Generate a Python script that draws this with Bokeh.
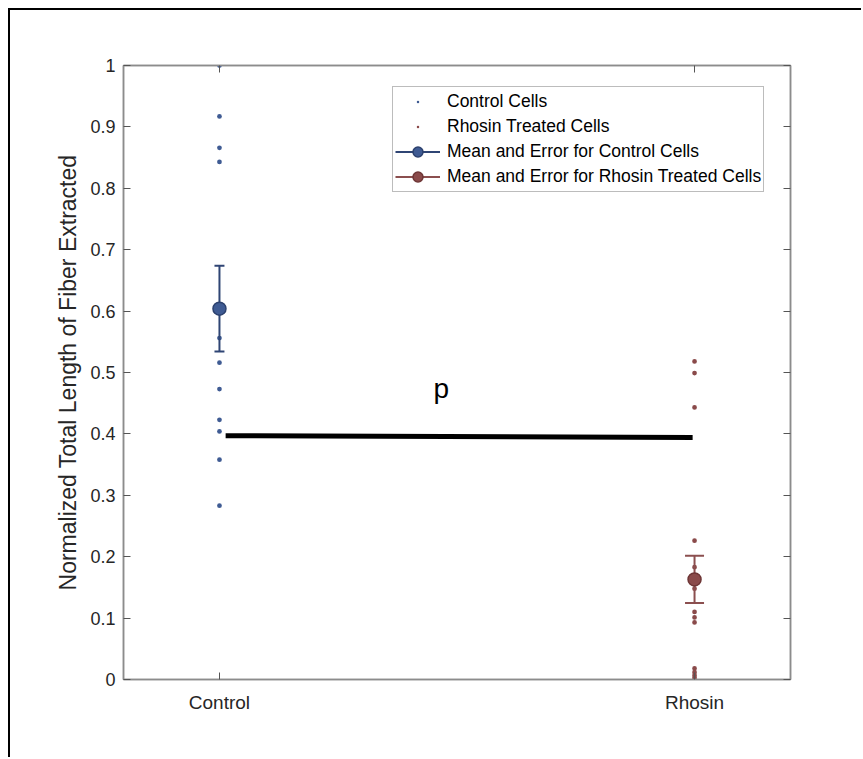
from bokeh.plotting import figure
from bokeh.models import (Range1d, FixedTicker, LinearAxis, Legend, LegendItem,
                          CustomJSTickFormatter)
from bokeh.core.properties import value
from bokeh.embed import file_html
from bokeh.resources import INLINE

# ---- data ----
groups = ["Control", "Rhosin"]
group_x = [1, 2]
control_vals = [1.0, 0.917, 0.866, 0.843, 0.556, 0.516, 0.473, 0.423, 0.404, 0.358, 0.283]
rhosin_vals = [0.518, 0.499, 0.443, 0.226, 0.183, 0.148, 0.110, 0.101, 0.093,
               0.018, 0.012, 0.007, 0.003]
means = [0.604, 0.163]
errs = [0.070, 0.0385]
sig_x = [1.013, 1.996]
sig_y = [0.397, 0.394]
p_label_x = 1.467
p_label_y = 0.474
y_ticks = [0, 0.1, 0.2, 0.3, 0.4, 0.5, 0.6, 0.7, 0.8, 0.9, 1.0]

FONT = "Liberation Sans"
AX = "#8c8c8c"
TXT = "#262626"
C_BLUE = "#3f5b93"
C_BLUE_EDGE = "#2c416e"
C_RED = "#8a4a4a"
C_RED_EDGE = "#6e3636"

p = figure(width=853, height=749, output_backend="svg", toolbar_location=None,
           x_range=Range1d(0.798, 2.202), y_range=Range1d(0, 1),
           min_border_left=113, min_border_right=73, min_border_top=55,
           min_border_bottom=80)
p.margin = (8, 0, 0, 8)
p.styles = {"border-left": "2px solid black", "border-top": "2px solid black"}
p.xgrid.visible = False
p.ygrid.visible = False
p.outline_line_color = AX
p.outline_line_width = 1.5
p.background_fill_color = "white"
p.border_fill_color = "white"

# axes
p.xaxis.ticker = FixedTicker(ticks=group_x)
p.xaxis.major_label_overrides = {gx: g for gx, g in zip(group_x, groups)}
p.yaxis.ticker = FixedTicker(ticks=y_ticks)
p.yaxis.formatter = CustomJSTickFormatter(code="return Number(tick.toFixed(1)).toString();")
p.yaxis.axis_label = "Normalized Total Length of Fiber Extracted"
p.yaxis.axis_label_text_font = FONT
p.yaxis.axis_label_text_font_size = "23px"
p.yaxis.axis_label_text_font_style = "normal"
p.yaxis.axis_label_text_color = TXT
p.yaxis.axis_label_standoff = 6

for ax in [p.xaxis[0], p.yaxis[0]]:
    ax.axis_line_color = AX
    ax.axis_line_width = 1.5
    ax.major_tick_line_color = "#555555"
    ax.major_tick_in = 7
    ax.major_tick_out = 0
    ax.minor_tick_line_color = None
    ax.major_label_text_font = FONT
    ax.major_label_text_color = TXT
p.xaxis.major_label_text_font_size = "19px"
p.yaxis.major_label_text_font_size = "18px"
p.xaxis.major_label_standoff = 12
p.yaxis.major_label_standoff = 8

top_ax = LinearAxis(ticker=FixedTicker(ticks=group_x), major_label_text_color=None,
                    axis_line_color=AX, axis_line_width=1.5, major_tick_line_color="#555555",
                    major_tick_in=7, major_tick_out=0, minor_tick_line_color=None)
right_ax = LinearAxis(ticker=FixedTicker(ticks=y_ticks), major_label_text_color=None,
                      axis_line_color=AX, axis_line_width=1.5, major_tick_line_color="#555555",
                      major_tick_in=7, major_tick_out=0, minor_tick_line_color=None)
p.add_layout(top_ax, "above")
p.add_layout(right_ax, "right")

# individual points (dot markers keep the legend glyph tiny)
r_c_pts = p.scatter(x=[group_x[0]] * len(control_vals), y=control_vals, marker="dot",
                    size=19, fill_color=C_BLUE, line_color=C_BLUE, line_width=1)
r_r_pts = p.scatter(x=[group_x[1]] * len(rhosin_vals), y=rhosin_vals, marker="dot",
                    size=19, fill_color=C_RED, line_color=C_RED, line_width=1)

# significance bar
p.line(x=sig_x, y=sig_y, line_color="black", line_width=5)
p.text(x=[p_label_x], y=[p_label_y], text=["p"], text_font=value(FONT),
       text_font_size="28px", text_align="center", text_baseline="alphabetic",
       text_color="black")

# error bars and means
cap_half = [0.0105, 0.02]
colors = [C_BLUE, C_RED]
edges = [C_BLUE_EDGE, C_RED_EDGE]
line_cols = ["#2f4574", "#8b4f4f"]
mean_items = []
for gx, m, e, ch, fc, ec, lc in zip(group_x, means, errs, cap_half, colors, edges, line_cols):
    rl = p.line(x=[gx, gx], y=[m - e, m + e], line_color=lc, line_width=2)
    p.segment(x0=[gx - ch, gx - ch], x1=[gx + ch, gx + ch], y0=[m - e, m + e],
              y1=[m - e, m + e], line_color=lc, line_width=2)
    rm = p.scatter(x=[gx], y=[m], size=13, fill_color=fc, line_color=ec, line_width=1.5)
    mean_items.append([rl, rm])

legend = Legend(items=[
    LegendItem(label="Control Cells", renderers=[r_c_pts]),
    LegendItem(label="Rhosin Treated Cells", renderers=[r_r_pts]),
    LegendItem(label="Mean and Error for Control Cells", renderers=mean_items[0]),
    LegendItem(label="Mean and Error for Rhosin Treated Cells", renderers=mean_items[1]),
], location=(269, 487))
legend.label_text_font = FONT
legend.label_text_font_size = "17.5px"
legend.label_text_color = "black"
legend.glyph_width = 45
legend.glyph_height = 25
legend.label_height = 25
legend.spacing = 0
legend.padding = 2
legend.margin = 0
legend.label_standoff = 7
legend.border_line_color = "#7a7a7a"
legend.border_line_width = 1.5
legend.background_fill_color = "white"
legend.background_fill_alpha = 1.0
p.add_layout(legend, "center")

open("out.html", "w").write(file_html(p, INLINE))
